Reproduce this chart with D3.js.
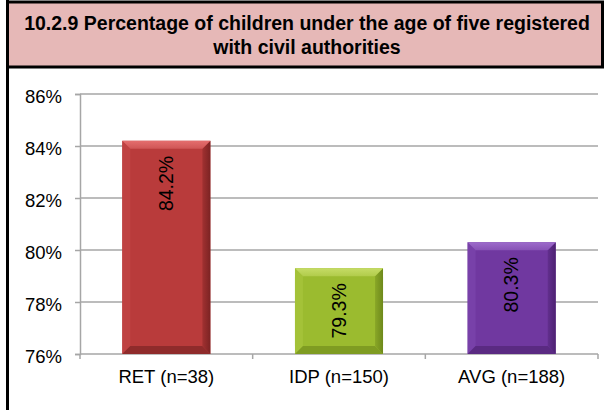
<!DOCTYPE html>
<html>
<head>
<meta charset="utf-8">
<script src="https://cdn.jsdelivr.net/npm/d3@7"></script>
<style>
  html, body { margin: 0; padding: 0; background: #fff; }
  svg { display: block; font-family: Arial, "Liberation Sans", sans-serif; }
</style>
</head>
<body>
<svg id="chart" width="604" height="410"></svg>
<script>
// Chart data
const titleLines = ["10.2.9 Percentage of children under the age of five registered", "with civil authorities"];
const categories = ["RET (n=38)", "IDP (n=150)", "AVG (n=188)"];
const values = [84.2, 79.3, 80.3];
const yTicks = [76, 78, 80, 82, 84, 86];

// Bar palettes: face, top bevel, left bevel, right bevel, bottom bevel
const palettes = [
  { face: "#b93b3b", top: "#e46e6e", left: "#bf4242", right: "#7c2323", bottom: "#8f2b2b" },
  { face: "#9bbb2f", top: "#c6dc66", left: "#a4c238", right: "#6e891b", bottom: "#7f9c22" },
  { face: "#7038a0", top: "#9d6bcb", left: "#7841a9", right: "#4d2172", bottom: "#5a2a82" }
];

const svg = d3.select("#chart");

// Frame: left rule and title banner
svg.append("line")
  .attr("x1", 7.5).attr("x2", 7.5).attr("y1", 0).attr("y2", 410)
  .attr("stroke", "#000").attr("stroke-width", 3);

svg.append("rect")
  .attr("x", 7.5).attr("y", 2).attr("width", 595).attr("height", 65)
  .attr("fill", "#e6b8b7").attr("stroke", "#000").attr("stroke-width", 3);

svg.append("g").selectAll("text").data(titleLines).join("text")
  .attr("x", 307).attr("y", (d, i) => 30 + i * 24)
  .attr("text-anchor", "middle")
  .attr("font-weight", "bold").attr("font-size", 19.5)
  .attr("fill", "#000")
  .text(d => d);

// Scales
const plot = { left: 80, right: 598, top: 94, bottom: 354 };
const y = d3.scaleLinear().domain([76, 86]).range([plot.bottom, plot.top]);
const x = d3.scaleBand().domain(categories).range([plot.left, plot.right])
  .paddingInner(0.49).paddingOuter(0.245);

const grid = "#a6a6a6";

// Horizontal gridlines
svg.append("g").selectAll("line").data(yTicks.filter(t => t !== 76)).join("line")
  .attr("x1", plot.left).attr("x2", plot.right)
  .attr("y1", d => y(d)).attr("y2", d => y(d))
  .attr("stroke", grid).attr("stroke-width", 1.5);

// Y axis
const yAxis = svg.append("g")
  .attr("transform", `translate(${plot.left},0)`)
  .call(d3.axisLeft(y).tickValues(yTicks).tickSize(5).tickPadding(13).tickFormat(d => d + "%"));
yAxis.select(".domain").attr("stroke", grid).attr("stroke-width", 1.5);
yAxis.selectAll(".tick line").attr("stroke", grid).attr("stroke-width", 1.5);
yAxis.selectAll(".tick text")
  .attr("font-size", 18.5).attr("font-family", "Arial, 'Liberation Sans', sans-serif")
  .attr("fill", "#000").attr("dy", "0.45em");

// X axis baseline with category boundary ticks
svg.append("line")
  .attr("x1", plot.left).attr("x2", plot.right)
  .attr("y1", plot.bottom).attr("y2", plot.bottom)
  .attr("stroke", grid).attr("stroke-width", 1.5);
const bounds = d3.range(categories.length + 1).map(i => plot.left + i * x.step());
svg.append("g").selectAll("line").data(bounds).join("line")
  .attr("x1", d => d).attr("x2", d => d)
  .attr("y1", plot.bottom).attr("y2", plot.bottom + 5)
  .attr("stroke", grid).attr("stroke-width", 1.5);

svg.append("g").selectAll("text").data(categories).join("text")
  .attr("x", d => x(d) + x.bandwidth() / 2)
  .attr("y", 383)
  .attr("text-anchor", "middle")
  .attr("font-size", 18.5).attr("fill", "#000")
  .text(d => d);

// Bevelled bars
const b = 8;
const bars = svg.append("g");
const defs = svg.append("defs");
categories.forEach((c, i) => {
  const x0 = x(c), x1 = x(c) + x.bandwidth();
  const y0 = y(values[i]), y1 = y(76);
  const p = palettes[i];
  const g = bars.append("g");
  const gid = "topg" + i;
  const lg = defs.append("linearGradient").attr("id", gid).attr("x1", 0).attr("x2", 0).attr("y1", 0).attr("y2", 1);
  lg.append("stop").attr("offset", 0).attr("stop-color", p.top);
  lg.append("stop").attr("offset", 1).attr("stop-color", d3.interpolateRgb(p.top, p.face)(0.5));
  const rid = "rg" + i;
  const rg = defs.append("linearGradient").attr("id", rid).attr("x1", 0).attr("x2", 1).attr("y1", 0).attr("y2", 0);
  rg.append("stop").attr("offset", 0).attr("stop-color", d3.interpolateRgb(p.face, p.right)(0.4));
  rg.append("stop").attr("offset", 1).attr("stop-color", p.right);

  g.append("rect").attr("x", x0).attr("y", y0).attr("width", x1 - x0).attr("height", y1 - y0).attr("fill", p.face);
  const poly = pts => pts.map(q => q.join(",")).join(" ");
  g.append("polygon").attr("points", poly([[x0, y0], [x0 + b, y0 + b], [x0 + b, y1 - b], [x0, y1]])).attr("fill", p.left);
  g.append("polygon").attr("points", poly([[x0, y1], [x0 + b, y1 - b], [x1 - b, y1 - b], [x1, y1]])).attr("fill", p.bottom);
  g.append("polygon").attr("points", poly([[x1, y0], [x1, y1], [x1 - b, y1 - b], [x1 - b, y0 + b]])).attr("fill", `url(#${rid})`);
  g.append("polygon").attr("points", poly([[x0, y0], [x1, y0], [x1 - b, y0 + b], [x0 + b, y0 + b]])).attr("fill", `url(#${gid})`);

  // Rotated value label inside the top of the bar
  const cx = (x0 + x1) / 2;
  g.append("text")
    .attr("transform", `translate(${cx},${y0 + 15}) rotate(-90)`)
    .attr("text-anchor", "end")
    .attr("dy", "0.35em")
    .attr("font-size", 19.5).attr("fill", "#000")
    .text(values[i].toFixed(1) + "%");
});
</script>
</body>
</html>
